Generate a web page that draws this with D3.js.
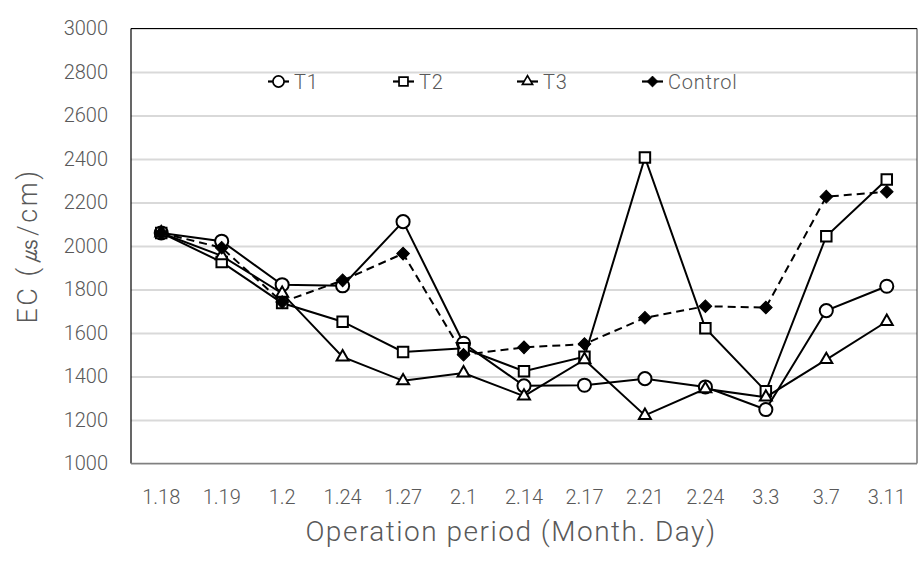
<!DOCTYPE html>
<html>
<head>
<meta charset="utf-8">
<script src="https://cdn.jsdelivr.net/npm/d3@7"></script>
<style>
  html, body { margin: 0; padding: 0; background: #fff; }
  svg { display: block; }
  text { font-family: Roboto, "Noto Sans", "Liberation Sans", sans-serif; fill: #595959; }
</style>
</head>
<body>
<svg id="chart" width="924" height="568"></svg>
<script>
const categories = ["1.18","1.19","1.2","1.24","1.27","2.1","2.14","2.17","2.21","2.24","3.3","3.7","3.11"];
const t1      = [2060, 2022, 1822, 1817, 2112, 1553, 1357, 1360, 1390, 1352, 1248, 1703, 1815];
const t2      = [2060, 1926, 1738, 1652, 1513, 1530, 1424, 1491, 2407, 1622, 1332, 2045, 2306];
const t3      = [2060, 1955, 1782, 1490, 1380, 1416, 1310, 1477, 1221, 1343, 1305, 1478, 1653];
const control = [2060, 1992, 1742, 1842, 1965, 1500, 1534, 1549, 1670, 1723, 1717, 2227, 2249];
const yTicks  = [1000,1200,1400,1600,1800,2000,2200,2400,2600,2800,3000];
const seriesNames = ["T1","T2","T3","Control"];

const series = [
  {name: seriesNames[0], values: t1, marker: "circle", dash: null},
  {name: seriesNames[1], values: t2, marker: "square", dash: null},
  {name: seriesNames[2], values: t3, marker: "triangle", dash: null},
  {name: seriesNames[3], values: control, marker: "diamond", dash: "8,5"}
];

const svg = d3.select("#chart");
const L = 131, R = 917, T = 28.5, B = 463.5;

const x = d3.scaleBand().domain(categories).range([L, R]).padding(0);
const y = d3.scaleLinear().domain([1000, 3000]).range([B, T]);

// gridlines
svg.append("g")
  .attr("transform", `translate(${L},0)`)
  .call(d3.axisLeft(y).tickValues(yTicks).tickSize(-(R - L)).tickFormat(""))
  .call(g => g.select(".domain").remove())
  .call(g => g.selectAll(".tick line").attr("stroke", "#d9d9d9").attr("stroke-width", 2));

// plot border
svg.append("line").attr("x1", L).attr("x2", R).attr("y1", T).attr("y2", T).attr("stroke", "#000").attr("stroke-width", 1.2);
svg.append("line").attr("x1", L).attr("x2", L).attr("y1", T).attr("y2", B).attr("stroke", "#000").attr("stroke-width", 1.2);
svg.append("line").attr("x1", R).attr("x2", R).attr("y1", T).attr("y2", B).attr("stroke", "#333").attr("stroke-width", 1);
svg.append("line").attr("x1", L).attr("x2", R).attr("y1", B).attr("y2", B).attr("stroke", "#808080").attr("stroke-width", 1.5);

// y axis labels
svg.append("g")
  .attr("transform", `translate(${L},0)`)
  .call(d3.axisLeft(y).tickValues(yTicks).tickSize(0).tickPadding(23).tickFormat(d3.format("d")))
  .call(g => g.select(".domain").remove())
  .call(g => g.selectAll("text").style("font-size", "20px").style("font-weight", "300").attr("fill", "#595959")
               .style("font-family", "Roboto, sans-serif"));

// x axis labels
svg.append("g")
  .attr("transform", `translate(0,${B})`)
  .call(d3.axisBottom(x).tickSize(0).tickPadding(26))
  .call(g => g.select(".domain").remove())
  .call(g => g.selectAll("text").style("font-size", "20px").style("font-weight", "300").attr("fill", "#595959")
               .style("font-family", "Roboto, sans-serif"));

// axis titles
svg.append("text")
  .attr("x", 511).attr("y", 541)
  .attr("text-anchor", "middle")
  .style("font-size", "28px").style("font-weight", "300").style("letter-spacing", "1.5px")
  .text("Operation period (Month. Day)");

svg.append("text")
  .attr("transform", `translate(37,${(T + B) / 2}) rotate(-90)`)
  .attr("text-anchor", "middle")
  .style("font-size", "27px").style("font-weight", "300").style("letter-spacing", "2.5px")
  .text("EC (㎲/cm)");

function markerPath(type) {
  if (type === "circle") return d3.symbol(d3.symbolCircle, 135)();
  if (type === "square") return d3.symbol(d3.symbolSquare, 110)();
  if (type === "triangle") return d3.symbol(d3.symbolTriangle, 62)();
  return d3.symbol(d3.symbolSquare, 80)();
}
function drawMarker(g, type) {
  const p = g.append("path").attr("d", markerPath(type));
  if (type === "diamond") {
    p.attr("fill", "#000").attr("stroke", "#000").attr("stroke-width", 1).attr("transform", "rotate(45)");
  } else {
    p.attr("fill", "#fff").attr("stroke", "#000").attr("stroke-width", 2);
  }
}

const line = d3.line().x((d, i) => x(categories[i]) + x.bandwidth() / 2).y(d => y(d));

series.forEach(s => {
  const g = svg.append("g");
  g.append("path").datum(s.values)
    .attr("d", line)
    .attr("fill", "none").attr("stroke", "#000").attr("stroke-width", 2)
    .attr("stroke-dasharray", s.dash);
  s.values.forEach((v, i) => {
    const mg = g.append("g").attr("transform", `translate(${x(categories[i]) + x.bandwidth() / 2},${y(v)})`);
    drawMarker(mg, s.marker);
  });
});

// legend
const legendX = [268, 393, 517, 642];
const ly = 81.5;
series.forEach((s, i) => {
  const g = svg.append("g").attr("transform", `translate(${legendX[i]},${ly})`);
  g.append("line").attr("x1", 0).attr("x2", 21).attr("y1", 0).attr("y2", 0).attr("stroke", "#000").attr("stroke-width", 2.2);
  const mg = g.append("g").attr("transform", "translate(10.5,0) scale(0.85)");
  drawMarker(mg, s.marker);
  g.append("text").attr("x", 26).attr("y", 7).style("font-size", "20px").style("font-weight", "300")
    .style("letter-spacing", "0.8px").text(s.name);
});
</script>
</body>
</html>
